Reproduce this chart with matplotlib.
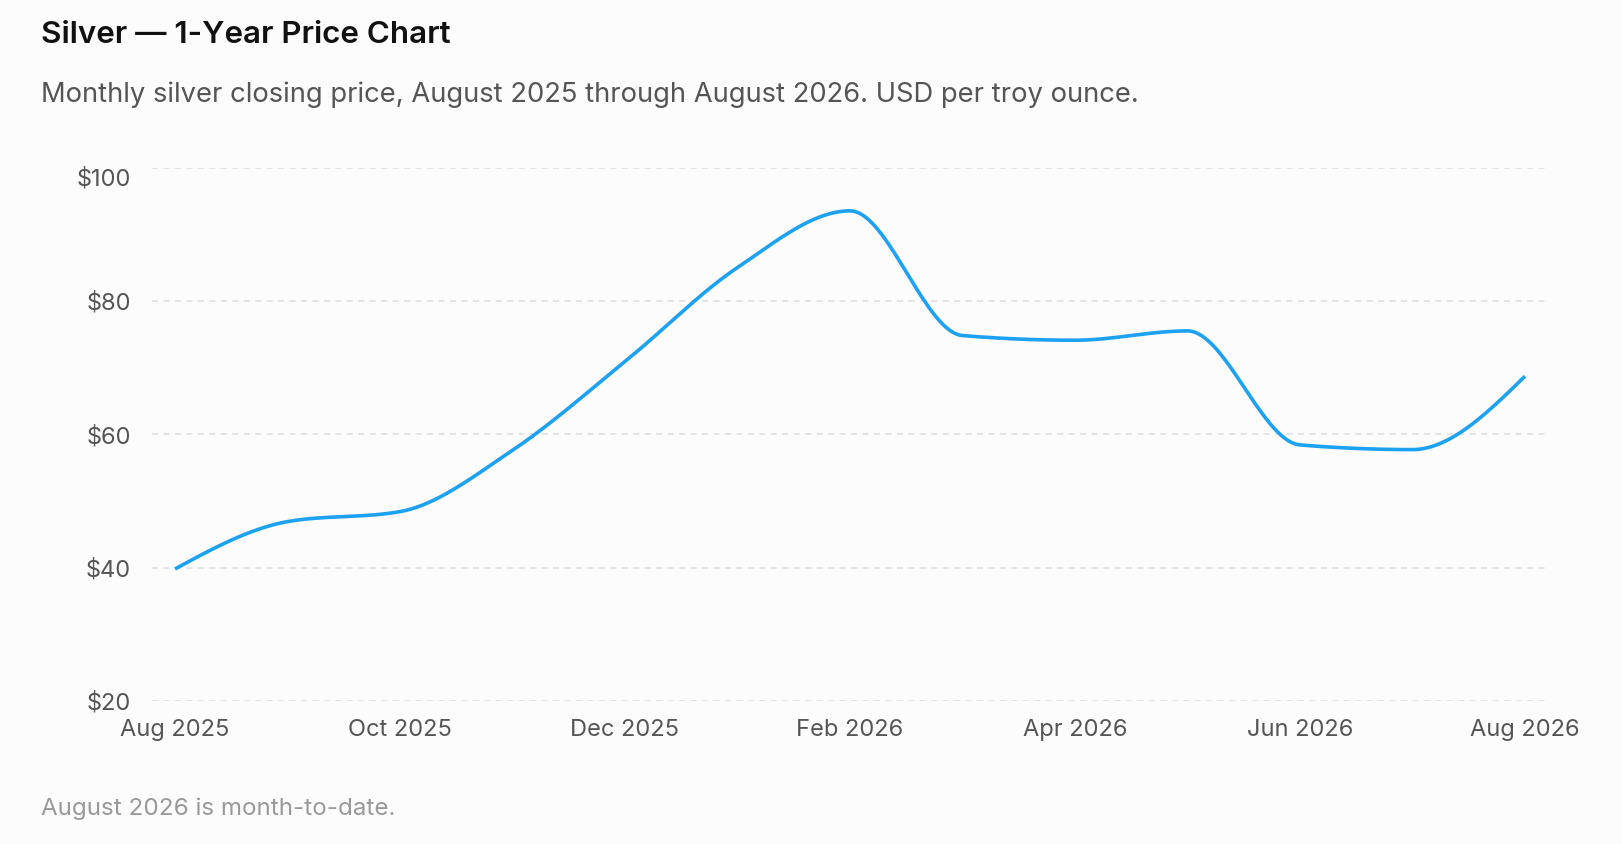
import numpy as np
import matplotlib
matplotlib.use("Agg")
import matplotlib.pyplot as plt
from matplotlib.transforms import ScaledTranslation

plt.rcParams['font.family'] = ['Inter', 'DejaVu Sans']

months = ["Aug 2025", "Sep 2025", "Oct 2025", "Nov 2025", "Dec 2025", "Jan 2026",
          "Feb 2026", "Mar 2026", "Apr 2026", "May 2026", "Jun 2026", "Jul 2026",
          "Aug 2026"]
prices = [39.8, 46.9, 48.4, 57.6, 70.9, 85.0, 93.5, 74.8, 74.1, 75.5, 58.4, 57.7, 68.7]
yticks = [20, 40, 60, 80, 100]
ytick_labels = ["$20", "$40", "$60", "$80", "$100"]

TITLE = "Silver \u2014 1-Year Price Chart"
SUBTITLE = "Monthly silver closing price, August 2025 through August 2026. USD per troy ounce."
NOTE = "August 2026 is month-to-date."

BG = "#fcfcfc"
LINE = "#1da1f2"


def monotone_x(x, y, n=40):
    # same idea as d3.curveMonotoneX: hermite segments with clamped tangents
    x = np.asarray(x, float)
    y = np.asarray(y, float)
    h = np.diff(x)
    s = np.diff(y) / h
    t = np.zeros(len(x))
    for i in range(1, len(x) - 1):
        s0, s1 = s[i - 1], s[i]
        p = (s0 * h[i] + s1 * h[i - 1]) / (h[i - 1] + h[i])
        t[i] = (np.sign(s0) + np.sign(s1)) * min(abs(s0), abs(s1), 0.5 * abs(p))
    t[0] = (3 * s[0] - t[1]) / 2
    t[-1] = (3 * s[-1] - t[-2]) / 2
    xs, ys = [], []
    for i in range(len(x) - 1):
        u = np.linspace(0, 1, n, endpoint=(i == len(x) - 2))
        dx = h[i]
        p0 = (x[i], y[i])
        p1 = (x[i] + dx / 3, y[i] + dx * t[i] / 3)
        p2 = (x[i + 1] - dx / 3, y[i + 1] - dx * t[i + 1] / 3)
        p3 = (x[i + 1], y[i + 1])
        b = [(1 - u) ** 3, 3 * (1 - u) ** 2 * u, 3 * (1 - u) * u ** 2, u ** 3]
        xs.append(b[0] * p0[0] + b[1] * p1[0] + b[2] * p2[0] + b[3] * p3[0])
        ys.append(b[0] * p0[1] + b[1] * p1[1] + b[2] * p2[1] + b[3] * p3[1])
    return np.concatenate(xs), np.concatenate(ys)


fig = plt.figure(figsize=(16.22, 8.44), dpi=100, facecolor=BG)
ax = fig.add_axes([152 / 1622, 143 / 844, 1396 / 1622, 533.5 / 844])
ax.set_facecolor(BG)

idx = np.arange(len(months))
cx, cy = monotone_x(idx, prices)
ax.plot(cx, cy, color=LINE, lw=2.6, solid_capstyle='butt', zorder=3)

pad = 23 / 112.5
ax.set_xlim(-pad, len(months) - 1 + pad)
ax.set_ylim(20, 100)

for v in yticks:
    ax.axhline(v, color="#dedede", lw=1.1, ls=(0, (4, 3.5)), zorder=1)

ax.set_yticks(yticks)
ax.set_yticklabels(ytick_labels)
ax.set_xticks(idx[::2])
ax.set_xticklabels(months[::2])
ax.tick_params(axis='both', length=0, labelsize=17, labelcolor="#555555")
ax.tick_params(axis='y', pad=15)
ax.tick_params(axis='x', pad=13)
for sp in ax.spines.values():
    sp.set_visible(False)

# top label sits a bit below its gridline, kept inside the plot area
top_lbl = ax.get_yticklabels()[-1]
top_lbl.set_transform(top_lbl.get_transform() + ScaledTranslation(0, -9 / 100, fig.dpi_scale_trans))

fig.text(41 / 1622, 1 - 43 / 844, TITLE, fontsize=22.6, fontweight='semibold',
         color="#111111", va='baseline', ha='left')
fig.text(41 / 1622, 1 - 102 / 844, SUBTITLE, fontsize=19.7, color="#555555",
         va='baseline', ha='left')
fig.text(41 / 1622, 1 - 815 / 844, NOTE, fontsize=17.4, color="#999999",
         va='baseline', ha='left')

fig.savefig("out.png", dpi=100, facecolor=BG)
